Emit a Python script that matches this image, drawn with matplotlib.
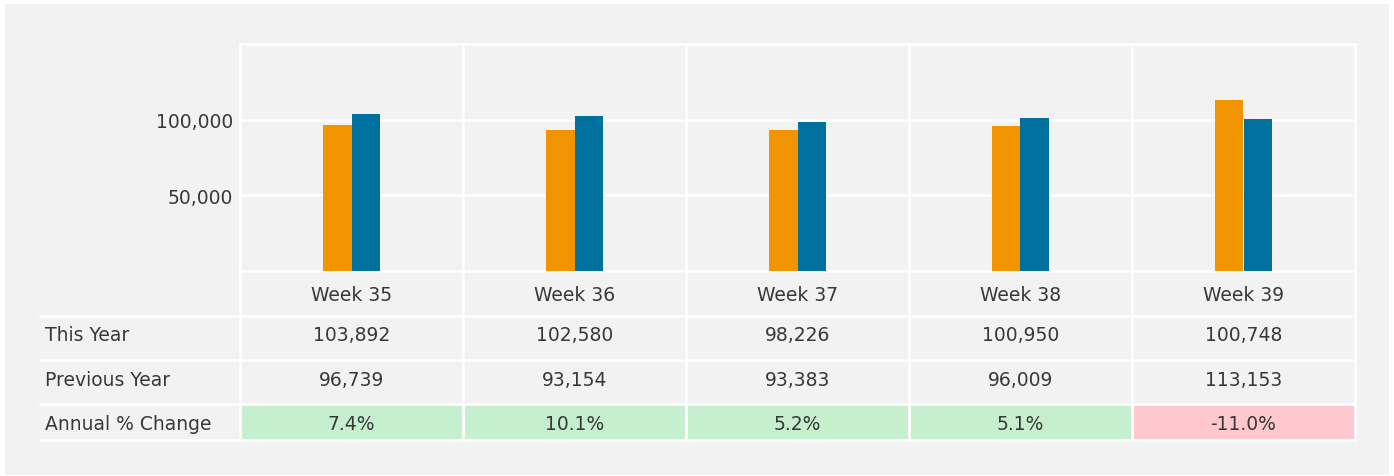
import matplotlib.pyplot as plt
from matplotlib.patches import Rectangle

weeks = ['Week 35', 'Week 36', 'Week 37', 'Week 38', 'Week 39']
this_year = [103892, 102580, 98226, 100950, 100748]
prev_year = [96739, 93154, 93383, 96009, 113153]
row_labels = ['This Year', 'Previous Year', 'Annual % Change']
yticks = [50000, 100000]

W, H = 1394, 477
plt.rcParams['font.family'] = ['DejaVu Sans']
txt = '#383838'
bg = '#f2f2f2'
lw = 1.8
fs = 13.5

fig = plt.figure(figsize=(W / 100, H / 100), dpi=100)
fig.patch.set_facecolor('white')
fig.add_artist(Rectangle((5 / W, 1 - 476 / H), 1384 / W, 471 / H,
                         transform=fig.transFigure, facecolor=bg, edgecolor='none', zorder=0))

# bar chart
ax = fig.add_axes([240 / W, 1 - 272 / H, 1115 / W, 227 / H])
ax.set_facecolor(bg)
x = range(len(weeks))
bw = 0.13
ax.bar([i - bw / 2 for i in x], prev_year, bw, color='#f29400', zorder=3)
ax.bar([i + bw / 2 for i in x], this_year, bw, color='#00709e', zorder=3)
ax.set_xlim(-0.5, len(weeks) - 0.5)
ax.set_ylim(0, 150000)
for s in ax.spines.values():
    s.set_visible(False)
for yv in [0] + yticks + [150000]:
    ax.axhline(yv, color='white', lw=lw, zorder=1, clip_on=False)
for i in range(len(weeks) + 1):
    ax.axvline(i - 0.5, color='white', lw=lw, zorder=1, clip_on=False)
ax.set_xticks([])
ax.set_yticks(yticks)
ax.set_yticklabels([f'{v:,}' for v in yticks], fontsize=fs, color=txt)
ax.tick_params(axis='y', length=0, pad=5)

# table below
tab = fig.add_axes([0, 0, 1, 1])
tab.set_xlim(0, W)
tab.set_ylim(H, 0)
tab.axis('off')
col_w = 1115 / len(weeks)
x0 = 240
row_y = [272, 317, 361, 405, 441]
pct = [(t / p - 1) * 100 for t, p in zip(this_year, prev_year)]

for i, wk in enumerate(weeks):
    cx = x0 + col_w * (i + 0.5)
    tab.text(cx, 296, wk, ha='center', va='center', fontsize=fs, color=txt)
    tab.text(cx, 336, f'{this_year[i]:,}', ha='center', va='center', fontsize=fs, color=txt)
    tab.text(cx, 381, f'{prev_year[i]:,}', ha='center', va='center', fontsize=fs, color=txt)
    c = '#c6efce' if pct[i] >= 0 else '#ffc7ce'
    tab.add_patch(Rectangle((x0 + col_w * i + 1.5, 407), col_w - 3, 33, facecolor=c, edgecolor='none'))
    tab.text(cx, 425, f'{pct[i]:.1f}%', ha='center', va='center', fontsize=fs, color=txt)

for lbl, cy in zip(row_labels, [336, 381, 425]):
    tab.text(45, cy, lbl, ha='left', va='center', fontsize=fs, color=txt)

for yv in row_y[1:]:
    tab.plot([40, 1355], [yv, yv], color='white', lw=lw)
for i in range(len(weeks) + 1):
    xv = x0 + col_w * i
    tab.plot([xv, xv], [272, 441], color='white', lw=lw)

fig.savefig('out.png', dpi=100, facecolor='white')
